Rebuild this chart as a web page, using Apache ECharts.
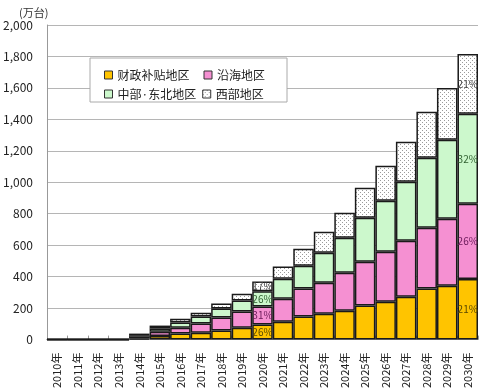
<!DOCTYPE html>
<html><head><meta charset="utf-8">
<script src="https://cdn.jsdelivr.net/npm/echarts@6/dist/echarts.min.js"></script>
<style>html,body{margin:0;padding:0;background:#fff}#c{width:480px;height:391px}</style>
</head><body><div id="c"></div>
<script>
var years = ['2010年','2011年','2012年','2013年','2014年','2015年','2016年','2017年','2018年','2019年','2020年','2021年','2022年','2023年','2024年','2025年','2026年','2027年','2028年','2029年','2030年'];
var fiscal  = [0,0,0,0,8,22,38,44,57,76,96,114,146,165,184,216,241,273,324,343,385];
var coastal = [0,0,0,0,10,28,38,58,83,102,115,146,178,197,241,279,318,356,387,425,479];
var central = [0,0,0,0,10,20,32,44,57,70,96,127,146,190,223,280,324,374,445,502,571];
var western = [0,0,0,0,10,19,25,25,32,44,63,77,108,134,158,190,222,254,292,330,380];
var fiscalPct  = {'2020年':'26%','2030年':'21%'};
var coastalPct = {'2020年':'31%','2030年':'26%'};
var centralPct = {'2020年':'26%','2030年':'32%'};
var westernPct = {'2020年':'17%','2030年':'21%'};
var yTicks = [0,200,400,600,800,1000,1200,1400,1600,1800,2000];

var cv = document.createElement('canvas');
cv.width = 4; cv.height = 4;
var cx = cv.getContext('2d');
cx.fillStyle = '#ffffff'; cx.fillRect(0,0,4,4);
cx.fillStyle = '#9a9a9a'; cx.fillRect(0,0,1,1); cx.fillRect(2,2,1,1);

function mk(vals, pct, color) {
  return vals.map(function(v,i){
    var t = pct[years[i]];
    var o = {value: v};
    if (t) o.label = {show:true, formatter:t, color: color};
    return o;
  });
}
var fontF = '"Noto Sans CJK JP", "Noto Sans", sans-serif';
var base = {type:'bar', stack:'a', barCategoryGap:'0%', barWidth:'100%',
  label:{show:false, position:'inside', fontSize:10, fontFamily:fontF},
  emphasis:{disabled:true}};
function S(name, vals, pct, color, fill) {
  return Object.assign({}, base, {name:name, data:mk(vals,pct,color),
    itemStyle:{color:fill, borderColor:'#1a1a1a', borderWidth:1.5}});
}
var chart = echarts.init(document.getElementById('c'), null, {renderer:'canvas'});
var legText = {fontSize:12, color:'#222', fontFamily:fontF};
chart.setOption({
  animation:false,
  title:{text:'(万台)', left:14, top:2, textStyle:{fontSize:11, fontWeight:'normal', color:'#333', fontFamily:fontF}},
  grid:{left:45, right:2, top:25, bottom:51},
  graphic:[{type:'rect', shape:{x:90, y:58, width:197, height:44}, style:{fill:'#fff', stroke:'#aaa', lineWidth:1}, z:50}],
  legend:[
    {data:[{name:'财政补贴地区'},{name:'沿海地区'}], left:99, top:64, itemWidth:8, itemHeight:8, itemGap:14, textStyle:legText, icon:'rect', z:60, selectedMode:false,
     itemStyle:{borderColor:'#333', borderWidth:1}},
    {data:[{name:'中部·东北地区'},{name:'西部地区'}], left:99, top:83, itemWidth:8, itemHeight:8, itemGap:6, textStyle:legText, icon:'rect', z:60, selectedMode:false,
     itemStyle:{borderColor:'#333', borderWidth:1}}
  ],
  xAxis:{type:'category', data:years,
    axisLine:{lineStyle:{color:'#999', width:1}},
    axisTick:{show:true, inside:true, length:4, lineStyle:{color:'#999'}},
    axisLabel:{rotate:90, fontSize:11, color:'#222', margin:13, interval:0, fontFamily:fontF}},
  yAxis:{type:'value', min:0, max:2000, interval:200,
    axisLine:{show:true, lineStyle:{color:'#999'}},
    axisTick:{show:false},
    splitLine:{lineStyle:{color:'#b5b5b5', width:1}},
    axisLabel:{fontSize:12, color:'#222', margin:14, fontFamily:fontF,
      formatter:function(v){return v.toLocaleString('en-US');}}},
  series:[
    S('财政补贴地区', fiscal, fiscalPct, '#5a4800', '#FFC400'),
    S('沿海地区', coastal, coastalPct, '#6a1a5a', '#F590D2'),
    S('中部·东北地区', central, centralPct, '#2f5f2f', '#CCF8CC'),
    S('西部地区', western, westernPct, '#444', {image:cv, repeat:'repeat'})
  ]
});
</script></body></html>
